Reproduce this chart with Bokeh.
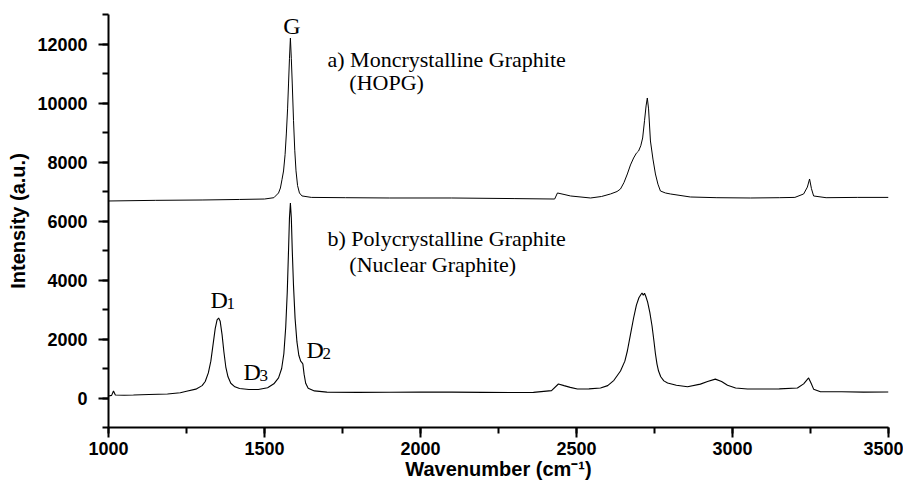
from bokeh.plotting import figure
from bokeh.models import Label, SingleIntervalTicker
from bokeh.embed import file_html
from bokeh.resources import INLINE

# ---- data ----
# a) Monocrystalline graphite (HOPG), offset spectrum
hopg_x = [1000, 1150, 1300, 1420, 1500, 1530, 1545, 1551, 1556, 1561, 1566, 1570, 1574,
          1577, 1580, 1583, 1586, 1589, 1593, 1597, 1601, 1606, 1612, 1620, 1650, 1760,
          1900, 2100, 2300, 2430, 2439, 2460, 2481, 2545, 2580, 2609, 2630, 2641, 2652,
          2663, 2673, 2683, 2692, 2699, 2706, 2712, 2718, 2723, 2727, 2731, 2737, 2745,
          2753, 2761, 2769, 2785, 2801, 2865, 2950, 3058, 3150, 3200, 3228, 3240, 3247,
          3253, 3260, 3300, 3400, 3500]
hopg_y = [6678, 6700, 6712, 6730, 6745, 6790, 6950, 7119, 7400, 7695, 8250, 8950, 9800,
          10645, 11500, 12200, 11500, 10645, 9400, 8400, 7700, 7200, 6950, 6850, 6800, 6790,
          6780, 6780, 6760, 6745, 6950, 6900, 6848, 6780, 6830, 6916, 7000, 7085, 7300,
          7594, 7900, 8136, 8300, 8373, 8550, 8814, 9400, 9900, 10170, 9800, 8712, 8100,
          7594, 7250, 7017, 6950, 6916, 6814, 6790, 6780, 6790, 6800, 6916, 7150, 7424,
          7100, 6848, 6790, 6800, 6800]

# b) Polycrystalline (nuclear) graphite
poly_x = [1000, 1010, 1016, 1022, 1050, 1080, 1130, 1189, 1230, 1250, 1280, 1300, 1310,
          1320, 1328, 1335, 1342, 1348, 1353, 1358, 1364, 1370, 1376, 1383, 1392, 1405,
          1420, 1450, 1480, 1510, 1530, 1545, 1555, 1562, 1568, 1573, 1577, 1580, 1583,
          1586, 1589, 1593, 1598, 1604, 1610, 1616, 1620, 1623, 1627, 1632, 1640, 1660,
          1700, 1800, 1900, 2000, 2100, 2200, 2300, 2362, 2420, 2442, 2460, 2480, 2503,
          2540, 2577, 2600, 2620, 2641, 2655, 2663, 2672, 2683, 2692, 2700, 2706, 2710,
          2714, 2718, 2722, 2728, 2735, 2742, 2748, 2753, 2758, 2763, 2770, 2780, 2792,
          2820, 2856, 2897, 2920, 2945, 2965, 2984, 3010, 3048, 3150, 3208, 3228, 3244,
          3252, 3260, 3282, 3350, 3420, 3500]
poly_y = [68, 90, 237, 100, 95, 100, 120, 135, 180, 230, 300, 420, 560,
          850, 1250, 1800, 2350, 2650, 2712, 2600, 2150, 1550, 1050, 720, 500, 380,
          320, 290, 290, 350, 480, 680, 1000, 1500, 2400, 3600, 5000, 6100, 6610,
          6100, 5000, 3800, 2700, 1900, 1450, 1250, 1200, 1150, 800, 500, 330, 240,
          200, 190, 195, 200, 200, 190, 185, 190, 250, 475, 420, 360, 305,
          310, 340, 420, 600, 915, 1250, 1593, 2100, 2712, 3150, 3400, 3500, 3560,
          3480, 3550, 3450, 3250, 2900, 2450, 1950, 1500, 1150, 915, 720, 580, 508,
          430, 380, 470, 560, 640, 560, 430, 340, 305, 310, 340, 480, 680,
          500, 300, 210, 210, 200, 203]

# annotations
big_labels = [
    ("a) Moncrystalline Graphite", 1702, 11490),
    ("(HOPG)", 1772, 10680),
    ("b) Polycrystalline Graphite", 1702, 5420),
    ("(Nuclear Graphite)", 1772, 4510),
]
peak_labels = [("G", 1560, 12600), ("D", 1327, 3320), ("D", 1433, 880), ("D", 1635, 1620)]
sub_labels = [("1", 1378, 3200), ("3", 1484, 760), ("2", 1686, 1500)]

SANS = "Liberation Sans"
SERIF = "Liberation Serif"

p = figure(width=903, height=487, output_backend="svg", toolbar_location=None,
           x_range=(1000, 3500), y_range=(-1000, 13000),
           min_border_left=108, min_border_right=15, min_border_top=14, min_border_bottom=60)
p.outline_line_color = None
p.xgrid.grid_line_color = None
p.ygrid.grid_line_color = None
p.background_fill_color = "white"
p.border_fill_color = "white"

p.line(hopg_x, hopg_y, line_color="black", line_width=1)
p.line(poly_x, poly_y, line_color="black", line_width=1.1)

p.xaxis.ticker = SingleIntervalTicker(interval=500, num_minor_ticks=2)
p.yaxis.ticker = SingleIntervalTicker(interval=2000, num_minor_ticks=2)

for ax in (p.xaxis, p.yaxis):
    ax.axis_line_width = 2
    ax.axis_line_color = "black"
    ax.major_tick_line_width = 2
    ax.minor_tick_line_width = 2
    ax.major_tick_in = 0
    ax.minor_tick_in = 0
    ax.major_tick_out = 10
    ax.minor_tick_out = 6
    ax.major_label_text_font = SANS
    ax.major_label_text_font_style = "bold"
    ax.major_label_text_font_size = "18px"
    ax.major_label_text_color = "black"
    ax.axis_label_text_font = SANS
    ax.axis_label_text_font_style = "bold"
    ax.axis_label_text_font_size = "20px"
    ax.axis_label_text_color = "black"

p.xaxis.axis_label = "Wavenumber (cm\u207b\u00b9)"
p.yaxis.axis_label = "Intensity (a.u.)"
p.xaxis.major_label_standoff = 4
p.yaxis.major_label_standoff = 11
p.xaxis.axis_label_standoff = 0
p.yaxis.axis_label_standoff = 5

for t, x, y in big_labels:
    p.add_layout(Label(x=x, y=y, text=t, text_font=SERIF, text_font_size="22px",
                       text_color="black", text_baseline="alphabetic"))
for t, x, y in peak_labels:
    p.add_layout(Label(x=x, y=y, text=t, text_font=SERIF, text_font_size="24px",
                       text_color="black", text_baseline="alphabetic"))
for t, x, y in sub_labels:
    p.add_layout(Label(x=x, y=y, text=t, text_font=SERIF, text_font_size="17px",
                       text_color="black", text_baseline="alphabetic"))

open("out.html", "w").write(file_html(p, INLINE))
